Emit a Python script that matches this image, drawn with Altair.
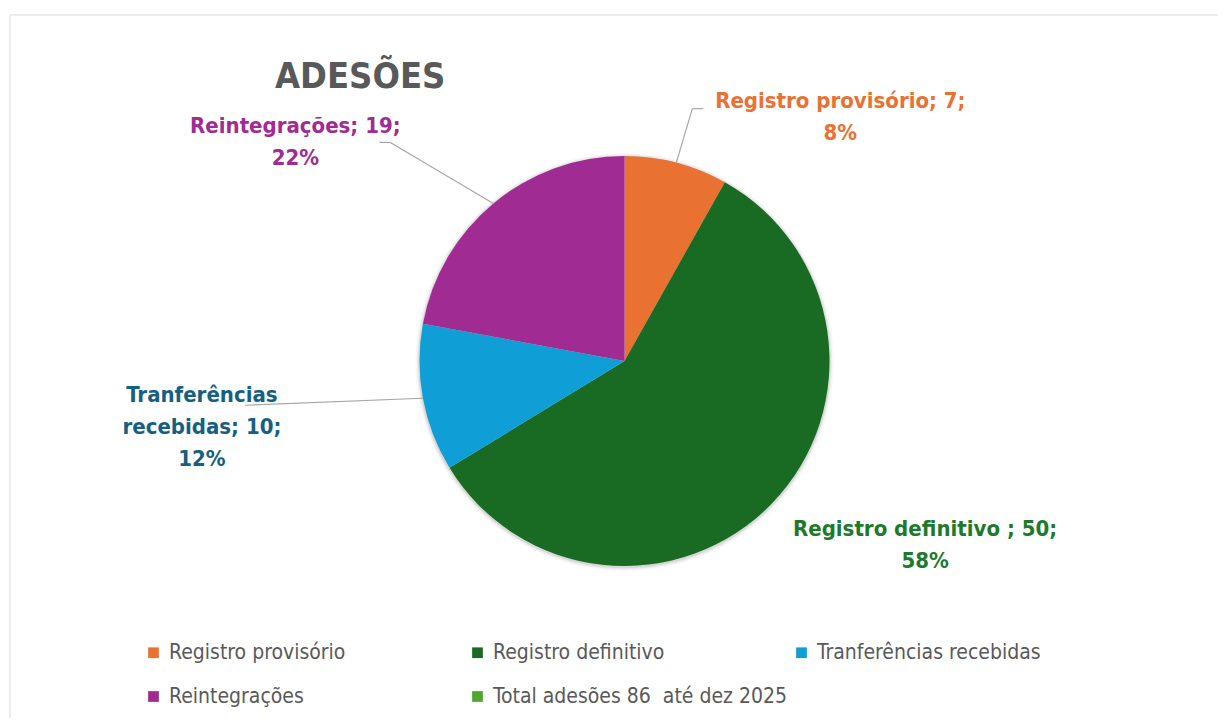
import altair as alt
import pandas as pd

# ---------------- data ----------------
categories = ["Registro provisório", "Registro definitivo", "Tranferências recebidas",
              "Reintegrações", "Total adesões 86  até dez 2025"]
values = [7, 50, 10, 19, 0]
label_heads = ["Registro provisório", "Registro definitivo ", "Tranferências\nrecebidas",
               "Reintegrações", ""]
chart_title = "ADESÕES"

# ---------------- styles ----------------
slice_colors = ["#E97132", "#196B24", "#0F9ED5", "#A02B93", "#4EA72E"]
label_colors = ["#E97132", "#1D7A2B", "#156082", "#A02B93", "#4EA72E"]
FONT = "Liberation Sans Narrow, DejaVu Sans Condensed, Arial Narrow, sans-serif"
GRAY = "#595959"
LINE_H = 32

total = sum(values)
labels = [f"{h}; {v};\n{round(v / total * 100)}%" for h, v in zip(label_heads, values)]
df = pd.DataFrame({"cat": categories, "value": values, "ord": list(range(len(values))),
                   "label": labels})

W, H = 1208, 703
CX, CY, R = 614.5, 346, 205

# label block-centre offsets (relative to slice mid-point on pie edge) and leader paths
layout = {
    "Registro provisório": {"text": (164, -46), "lead": [(0, 0), (16, -54), (27, -54)]},
    "Registro definitivo": {"text": (153, 42), "lead": []},
    "Tranferências recebidas": {"text": (-221, 29), "lead": [(0, 0), (-178, 7)]},
    "Reintegrações": {"text": (-198, -61), "lead": [(0, 0), (-103, -61), (-114, -61)]},
}


def positioned(cat):
    return (alt.Chart(df)
            .transform_joinaggregate(tot="sum(value)")
            .transform_window(cum="sum(value)", sort=[alt.SortField("ord")], frame=[None, 0])
            .transform_calculate(mid="(datum.cum - datum.value/2) / datum.tot * 2 * PI")
            .transform_calculate(ex=f"{CX} + {R} * sin(datum.mid)",
                                 ey=f"{CY} - {R} * cos(datum.mid)")
            .transform_filter(alt.datum.cat == cat))


title_df = pd.DataFrame({"t": [chart_title]})

# soft shadow behind the pie
shadow = [
    alt.Chart(title_df).mark_arc(outerRadius=R + r_add, theta=0, theta2=6.2832,
                                 color="#000000", opacity=op).encode(
        x=alt.value(CX), y=alt.value(CY + 1))
    for r_add, op in [(4, 0.03), (2.5, 0.05), (1.2, 0.08)]
]

pie = alt.Chart(df).mark_arc(outerRadius=R).encode(
    theta=alt.Theta("value:Q", stack=True),
    order=alt.Order("ord:Q"),
    color=alt.Color(
        "cat:N",
        sort=categories,
        scale=alt.Scale(domain=categories, range=slice_colors),
        legend=alt.Legend(
            title=None, orient="none", legendX=133, legendY=627, columns=3,
            direction="horizontal", gridAlign="all", symbolType="square",
            symbolSize=115, symbolStrokeWidth=0, labelFont=FONT, labelFontSize=21,
            labelColor=GRAY, labelOffset=5, columnPadding=3, rowPadding=22,
            labelLimit=500, labelExpr="replace(datum.label, '  ', '\u00a0 ')",
        ),
    ),
    x=alt.value(CX),
    y=alt.value(CY),
)

layers = []
for i, cat in enumerate(categories[:4]):
    lay = layout[cat]
    base = positioned(cat)
    pts = lay["lead"]
    for (ax, ay), (bx, by) in zip(pts[:-1], pts[1:]):
        seg = base.transform_calculate(
            x1=f"datum.ex + {ax}", y1=f"datum.ey + {ay}",
            x2=f"datum.ex + {bx}", y2=f"datum.ey + {by}",
        ).mark_rule(color="#A6A6A6", strokeWidth=1.2).encode(
            x=alt.X("x1:Q", scale=None, axis=None),
            y=alt.Y("y1:Q", scale=None, axis=None),
            x2="x2:Q", y2="y2:Q",
        )
        layers.append(seg)
    tx, ty = lay["text"]
    n_lines = labels[i].count("\n") + 1
    txt = base.mark_text(
        dx=tx, dy=ty - (n_lines - 1) * LINE_H / 2, align="center", baseline="middle",
        lineBreak="\n", font=FONT, fontWeight="bold", fontSize=22, lineHeight=LINE_H,
        color=label_colors[i],
    ).encode(
        x=alt.X("ex:Q", scale=None, axis=None),
        y=alt.Y("ey:Q", scale=None, axis=None),
        text="label:N",
    )
    layers.append(txt)

title = alt.Chart(title_df).mark_text(
    align="left", baseline="alphabetic", font=FONT, fontWeight="bold",
    fontSize=36, color=GRAY,
).encode(text="t:N", x=alt.value(265), y=alt.value(73))

border_top = alt.Chart(title_df).mark_rule(color="#D9D9D9", strokeWidth=1).encode(
    x=alt.value(0), x2=alt.value(W + 20), y=alt.value(0))
border_left = alt.Chart(title_df).mark_rule(color="#D9D9D9", strokeWidth=1).encode(
    x=alt.value(0), y=alt.value(0), y2=alt.value(H + 20))

chart = alt.layer(border_top, border_left, *shadow, pie, *layers, title).properties(
    width=W, height=H,
    padding={"left": 2, "top": 7, "right": 0, "bottom": 0},
    autosize=alt.AutoSizeParams(type="none"),
    background="white",
).configure_view(stroke=None)

chart.save("out.html", embed_options={"renderer": "svg", "actions": False})
